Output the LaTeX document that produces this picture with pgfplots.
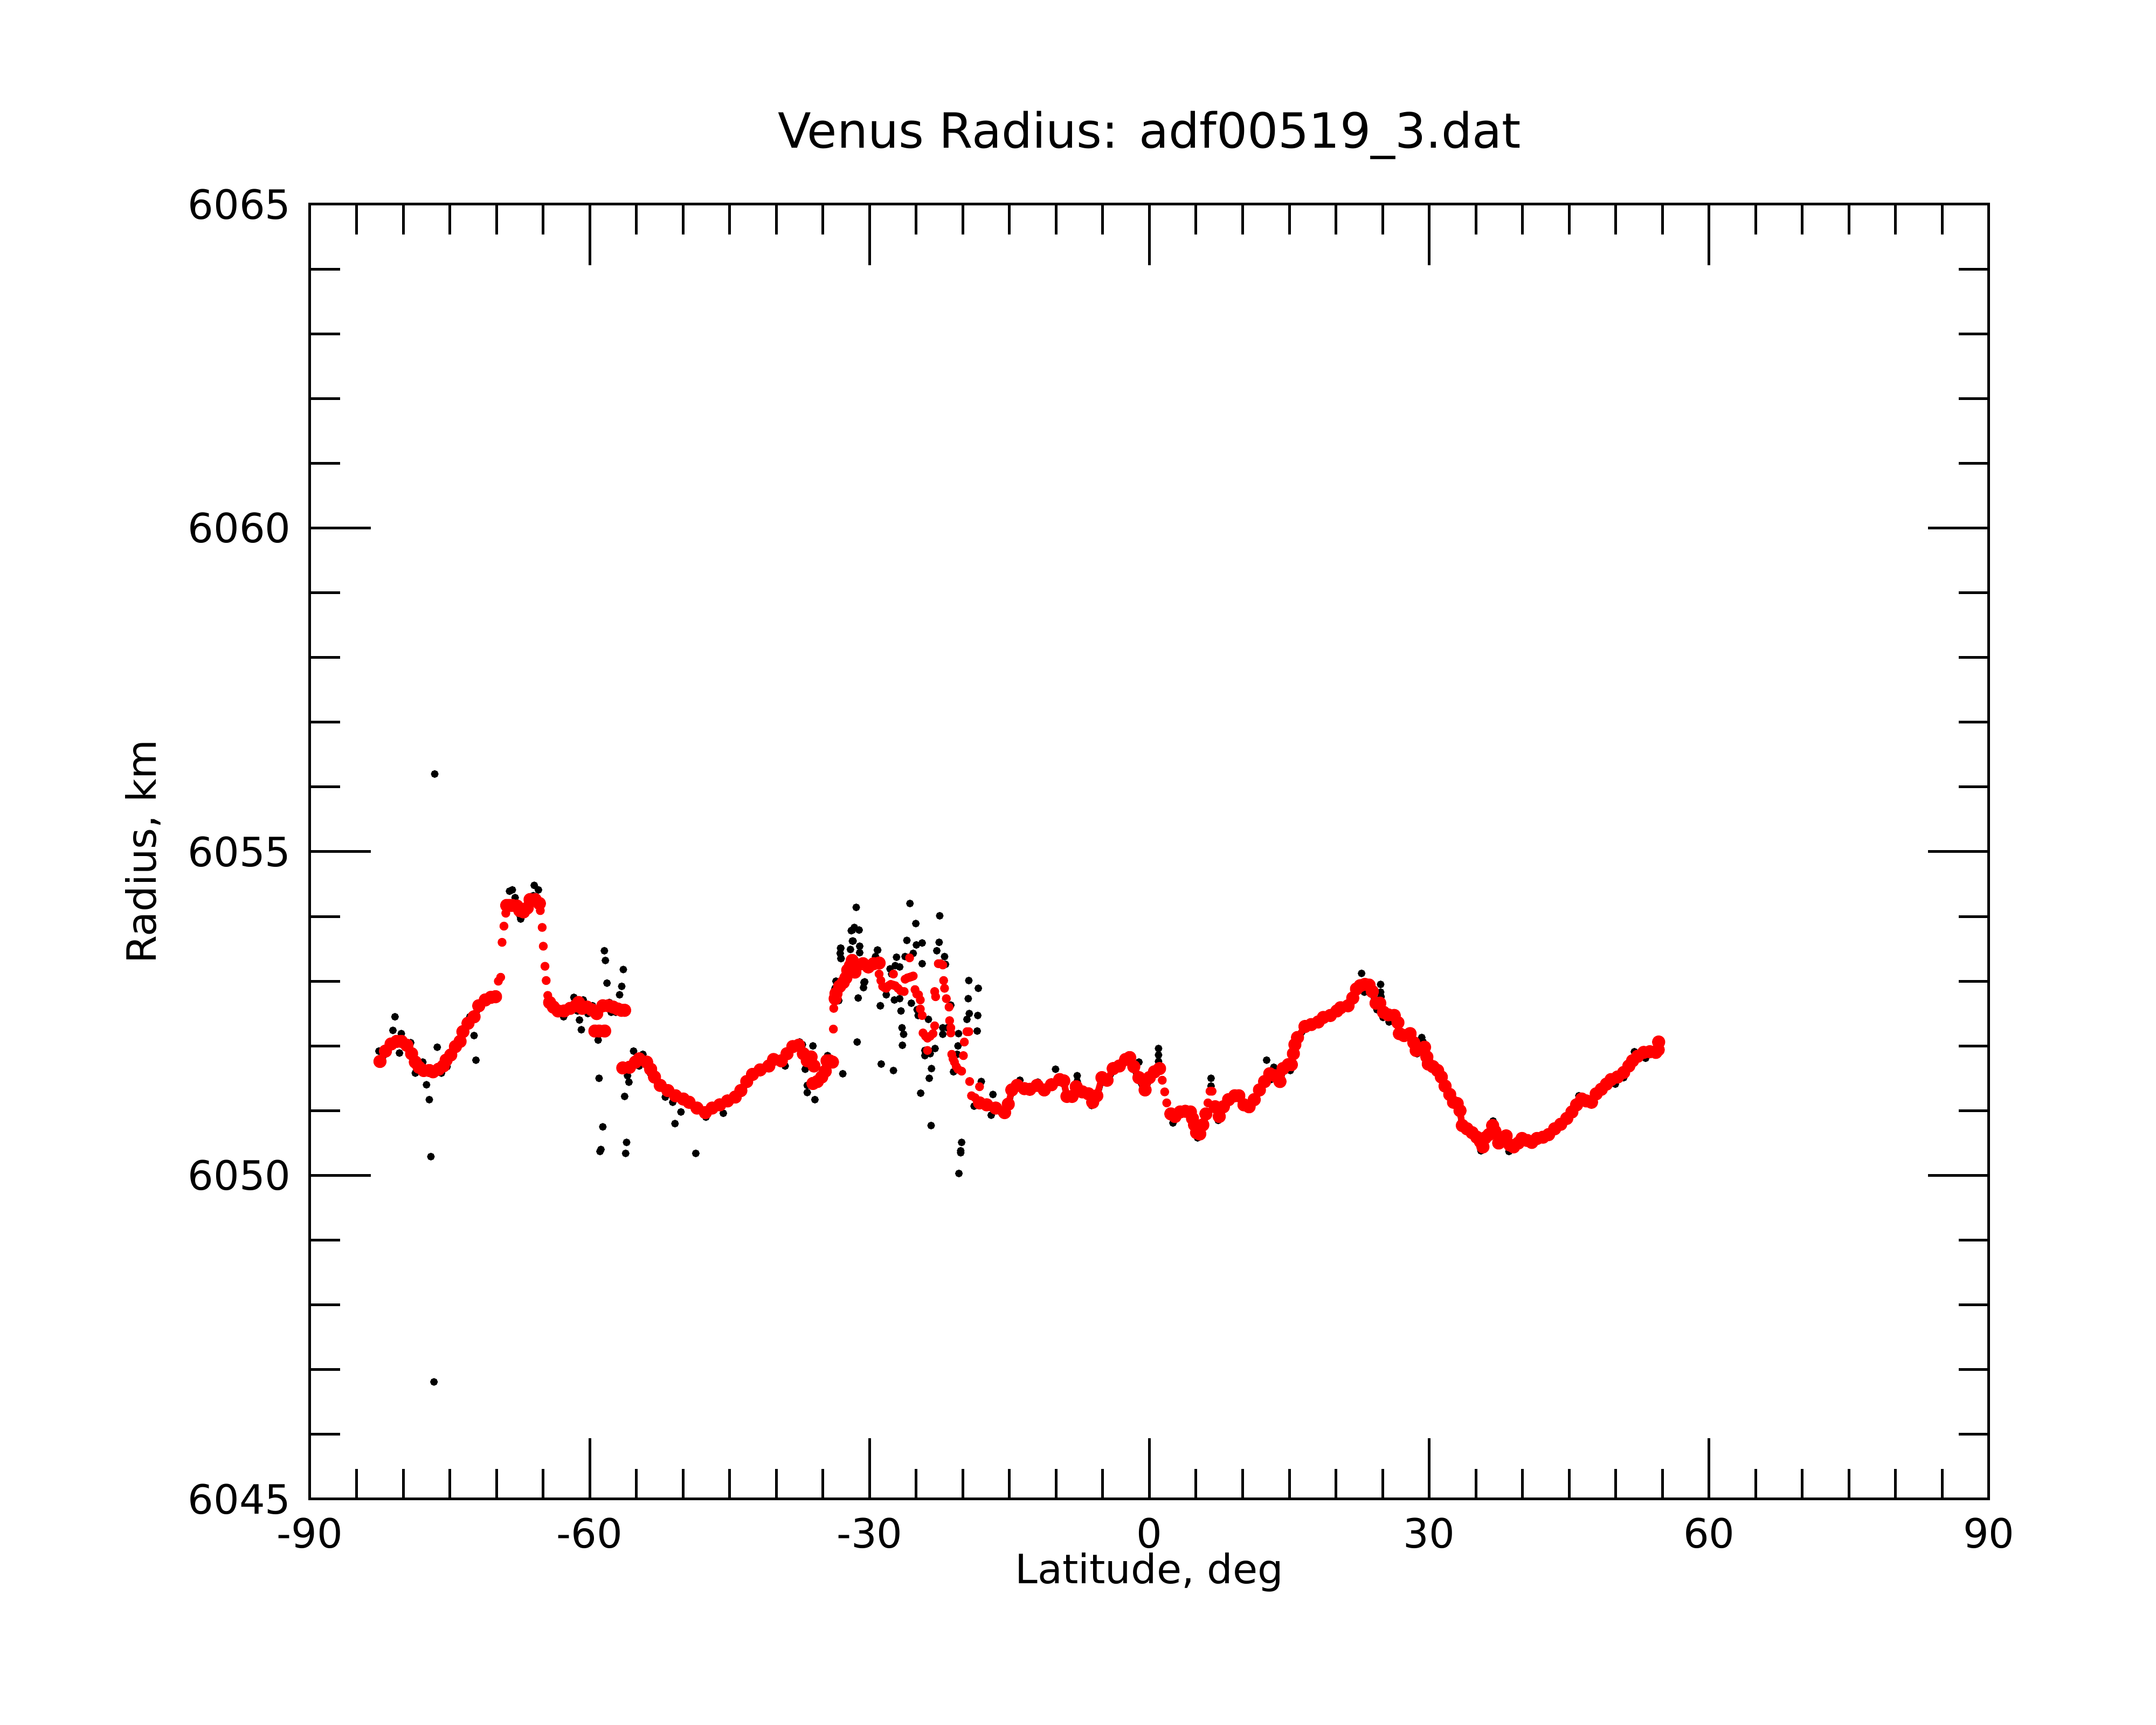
\documentclass[border=0pt]{standalone}
\usepackage{pgfplots}
\pgfplotsset{compat=1.18}
\usepackage{pgfplotstable}
\usepackage{fontspec}
\setmainfont{DejaVu Sans}

\pgfplotstableread{
x y
-82.49 6051.76
-81.9 6051.92
-81.3 6052.03
-80.7 6052.07
-80.2 6052.07
-79.6 6052.01
-79.1 6051.88
-78.7 6051.75
-78.3 6051.67
-77.8 6051.62
-77.2 6051.62
-76.8 6051.60
-76.2 6051.64
-75.7 6051.69
-75.4 6051.78
-74.9 6051.86
-74.4 6051.99
-73.9 6052.07
-73.6 6052.22
-73.05 6052.35
-72.4 6052.45
-71.9 6052.62
-71.2 6052.71
-70.6 6052.75
-70.1 6052.76
}\redA

\pgfplotstableread{
x y
-68.9 6054.17
-68.6 6054.17
-68.3 6054.17
-67.8 6054.16
-67.5 6054.09
-67.1 6054.07
-66.7 6054.13
-66.4 6054.26
-65.85 6054.26
-65.4 6054.20
}\redB

\pgfplotstableread{
x y
-64.3 6052.67
-63.9 6052.60
-63.4 6052.54
-62.75 6052.54
-62.1 6052.58
-61.5 6052.62
-61.2 6052.67
-60.8 6052.58
-60.3 6052.60
-59.8 6052.56
-59.25 6052.50
}\redC

\pgfplotstableread{
x y
-59.45 6052.23
-59.0 6052.23
-58.4 6052.23
}\redD

\pgfplotstableread{
x y
-58.6 6052.62
-58.0 6052.62
-57.5 6052.60
-57.0 6052.57
-56.6 6052.55
-56.26 6052.55
}\redE

\pgfplotstableread{
x y
-56.46 6051.66
-55.74 6051.67
-55.1 6051.75
-54.7 6051.80
-53.9 6051.75
-53.47 6051.64
-53.06 6051.52
-52.44 6051.39
-51.62 6051.31
-50.8 6051.23
-49.97 6051.18
-49.35 6051.13
-48.5 6051.04
-47.6 6050.97
-46.88 6051.04
-46.06 6051.09
-45.23 6051.15
-44.4 6051.21
-43.8 6051.31
-43.17 6051.45
-42.55 6051.56
-41.73 6051.63
-40.8 6051.69
-40.29 6051.79
-39.46 6051.77
-38.85 6051.88
-38.23 6051.99
-37.61 6052.01
-37.1 6051.88
-36.68 6051.77
-36.27 6051.83
-35.96 6051.69
}\redF

\pgfplotstableread{
x y
-36.07 6051.42
-35.6 6051.45
-35.13 6051.52
-34.75 6051.61
-34.56 6051.77
-34.3 6051.77
-33.98 6051.75
}\redG

\pgfplotstableread{
x y
-33.69 6052.73
-33.6 6052.81
-33.21 6052.92
-32.82 6052.98
-32.54 6053.05
-32.34 6053.17
-32.05 6053.24
-31.86 6053.32
-31.57 6053.14
-31.29 6053.25
-30.71 6053.27
-30.13 6053.22
-29.55 6053.27
-28.98 6053.28
}\redH

\pgfplotstableread{
x y
-18.21 6051.12
-17.44 6051.09
-16.48 6051.04
-15.52 6050.97
-15.13 6051.10
-14.75 6051.32
-14.17 6051.39
-13.4 6051.34
-12.82 6051.33
-12.04 6051.39
-11.27 6051.32
-10.5 6051.40
-9.62 6051.48
-9.18 6051.46
-8.84 6051.22
-8.29 6051.22
-7.85 6051.37
-7.19 6051.29
-6.53 6051.26
-6.08 6051.13
-5.64 6051.23
-5.09 6051.51
-4.54 6051.47
-3.88 6051.65
-3.22 6051.69
-2.55 6051.79
-2.11 6051.82
-1.67 6051.68
-1.12 6051.51
-0.46 6051.32
-0.01 6051.51
0.54 6051.60
1.09 6051.65
}\redI

\pgfplotstableread{
x y
2.3 6050.95
2.75 6050.91
3.3 6050.98
3.85 6050.99
4.4 6050.98
4.62 6050.88
4.84 6050.78
5.06 6050.66
5.4 6050.64
5.73 6050.78
6.06 6050.95
}\redJ

\pgfplotstableread{
x y
7.05 6051.06
7.49 6050.91
7.93 6051.06
8.49 6051.17
9.15 6051.23
9.59 6051.23
10.14 6051.09
10.69 6051.06
11.24 6051.17
11.8 6051.32
12.35 6051.45
12.9 6051.57
13.45 6051.54
14.0 6051.45
14.33 6051.65
14.89 6051.71
15.22 6051.71
15.44 6051.88
15.6 6052.02
15.88 6052.13
16.68 6052.30
17.35 6052.33
18.1 6052.37
18.65 6052.44
19.4 6052.47
20.1 6052.54
20.5 6052.59
21.3 6052.62
21.8 6052.74
22.2 6052.88
22.6 6052.93
23.1 6052.95
23.55 6052.94
23.9 6052.84
24.3 6052.66
24.7 6052.66
25.1 6052.52
25.6 6052.48
26.25 6052.47
26.65 6052.36
26.8 6052.19
27.3 6052.16
27.95 6052.19
28.35 6052.05
28.6 6051.93
29.1 6051.95
29.5 6051.98
29.75 6051.83
29.9 6051.72
30.4 6051.68
30.9 6051.62
31.3 6051.52
31.7 6051.38
32.2 6051.25
32.6 6051.13
33.0 6051.11
33.3 6051.00
33.55 6050.77
34.05 6050.72
34.6 6050.66
35.1 6050.59
35.5 6050.52
35.76 6050.44
36.0 6050.58
36.4 6050.63
36.8 6050.77
37.05 6050.68
37.45 6050.50
37.85 6050.58
38.25 6050.61
38.65 6050.47
39.05 6050.44
39.55 6050.50
39.95 6050.57
40.5 6050.54
41.0 6050.51
41.55 6050.57
42.2 6050.59
42.8 6050.63
43.45 6050.72
44.1 6050.79
44.75 6050.88
45.3 6050.98
45.8 6051.09
46.35 6051.18
46.85 6051.15
47.4 6051.13
47.9 6051.26
48.45 6051.33
49.0 6051.41
49.5 6051.48
50.2 6051.52
50.85 6051.59
51.4 6051.69
51.8 6051.77
52.35 6051.84
53.0 6051.90
53.65 6051.91
54.3 6051.90
54.55 6051.94
54.6 6052.06
}\redK

\pgfplotstableread{
x y
-69.8 6053.00
-69.55 6053.06
-69.4 6053.60
-69.2 6053.85
-69.0 6054.05
-65.3 6054.09
-65.1 6053.83
-64.98 6053.54
-64.8 6053.23
-64.67 6053.01
-64.5 6052.78
-33.88 6052.26
-33.84 6052.58
-28.98 6053.11
-28.79 6053.01
-28.6 6052.92
-28.4 6052.90
-28.21 6052.89
-27.95 6052.93
-27.73 6052.95
-27.5 6052.94
-27.25 6052.93
-26.95 6052.89
-26.67 6052.85
-26.29 6052.84
-27.44 6053.11
-26.19 6053.03
-25.95 6053.05
-25.71 6053.06
-25.5 6053.07
-25.32 6053.08
-25.71 6053.36
-25.13 6052.87
-24.94 6052.80
-24.75 6052.79
-24.56 6052.71
-24.56 6052.57
-24.36 6052.47
-24.27 6052.20
-24.0 6052.15
-23.79 6052.12
-23.5 6052.15
-23.2 6052.19
-23.79 6051.93
-23.02 6052.31
-22.92 6052.76
-23.02 6052.84
-22.63 6053.27
-22.4 6053.27
-22.15 6053.25
-22.06 6053.01
-21.96 6052.89
-21.77 6052.73
-21.48 6052.60
-21.42 6052.39
-21.29 6052.28
-21.29 6052.20
-21.19 6051.87
-21.05 6051.80
-20.9 6051.75
-20.7 6051.68
-20.52 6051.64
-20.13 6051.61
-19.94 6051.85
-19.84 6052.06
-19.56 6052.22
-19.36 6052.22
-19.27 6051.45
-19.07 6051.23
-18.69 6051.20
-18.21 6051.37
1.38 6051.47
1.64 6051.29
1.86 6051.12
6.28 6051.12
6.5 6051.30
6.72 6051.30
}\redS

\pgfplotstableread{
x y
-82.6 6051.92
-80.88 6052.45
-81.1 6052.24
-80.2 6052.19
-80.4 6051.89
-79.2 6052.05
-78.7 6051.58
-77.9 6051.75
-77.5 6051.40
-77.2 6051.17
-77.03 6050.29
-76.62 6056.20
-76.7 6046.81
-76.35 6051.98
-75.9 6051.58
-75.3 6051.68
-73.25 6052.33
-72.85 6052.45
-72.4 6052.16
-72.2 6051.78
-69.96 6052.73
-68.6 6054.39
-68.3 6054.41
-68.0 6054.29
-67.5 6054.02
-67.4 6053.96
-66.05 6054.32
-65.95 6054.48
-65.5 6054.41
-63.4 6052.50
-62.8 6052.45
-61.7 6052.75
-61.6 6052.67
-61.3 6052.54
-61.1 6052.40
-60.9 6052.25
-60.7 6052.71
-60.2 6052.50
-59.7 6052.62
-59.1 6052.09
-59.0 6051.50
-58.6 6050.75
-58.8 6050.40
-58.9 6050.37
-58.43 6053.47
-58.32 6053.32
-58.15 6052.97
-57.9 6052.67
-57.7 6052.52
-57.2 6052.52
-56.8 6052.79
-56.57 6052.92
-56.4 6053.18
-56.26 6051.22
-56.05 6050.51
-56.15 6050.34
-55.95 6051.54
-55.8 6051.44
-55.3 6051.92
-54.3 6051.87
-54.7 6051.69
-53.5 6051.58
-51.9 6051.21
-51.1 6051.13
-50.22 6050.98
-50.86 6050.80
-48.63 6050.34
-47.54 6050.90
-45.68 6050.96
-39.05 6051.69
-37.5 6052.06
-37.2 6052.02
-36.9 6051.64
-36.68 6051.39
-36.68 6051.28
-35.86 6051.17
-36.07 6052.00
-34.5 6051.85
-32.87 6051.57
-33.6 6053.00
-33.7 6052.89
-33.3 6052.70
-33.08 6053.51
-33.08 6053.35
-32.05 6053.49
-31.84 6053.79
-31.63 6053.83
-31.84 6053.62
-31.43 6054.14
-31.12 6053.79
-31.06 6053.54
-31.06 6053.44
-30.6 6052.98
-30.65 6052.90
-31.22 6052.74
-31.33 6052.06
-28.85 6052.62
-28.75 6051.72
-29.16 6053.48
-25.67 6054.20
-22.48 6054.01
-25.04 6053.89
-31.96 6053.78
-31.77 6053.62
-33.11 6053.51
-33.15 6053.43
-33.05 6053.35
-29.13 6053.48
-29.36 6053.38
-26.0 6053.63
-24.98 6053.56
-24.36 6053.59
-25.32 6053.43
-26.19 6053.38
-27.11 6053.37
-24.36 6053.27
-22.54 6053.60
-22.79 6053.47
-21.96 6053.38
-21.86 6053.26
-27.8 6053.19
-27.25 6053.24
-26.77 6053.22
-27.63 6053.11
-30.52 6052.99
-28.84 6052.62
-28.21 6052.79
-27.34 6052.71
-26.77 6052.73
-26.63 6052.54
-25.52 6052.66
-24.9 6052.56
-24.79 6052.47
-23.69 6052.41
-26.52 6052.28
-26.35 6052.18
-26.48 6052.01
-27.44 6051.62
-24.07 6051.93
-24.07 6051.85
-23.5 6051.88
-22.98 6051.96
-23.36 6051.65
-23.6 6051.50
-24.52 6051.27
-23.4 6050.77
-20.13 6050.51
-20.23 6050.38
-20.23 6050.35
-20.42 6050.03
-19.36 6053.01
-18.34 6052.89
-19.42 6052.73
-19.31 6052.50
-19.56 6052.41
-18.4 6052.47
-18.46 6052.23
-20.46 6052.19
-22.15 6052.28
-22.15 6052.18
-21.67 6052.28
-20.52 6052.00
-20.61 6051.87
-21.0 6051.60
-21.29 6052.63
-18.02 6051.45
-16.77 6051.25
-16.96 6050.93
-18.79 6051.07
-13.88 6051.47
-11.96 6051.44
-10.06 6051.64
-7.74 6051.54
-7.74 6051.45
0.98 6051.96
0.98 6051.86
0.98 6051.76
-1.12 6051.75
6.61 6051.50
6.61 6051.38
12.57 6051.78
13.34 6051.67
13.01 6051.48
5.17 6050.58
-6.19 6051.08
2.53 6050.81
7.38 6050.85
15.11 6051.62
22.75 6053.12
24.79 6052.95
24.79 6052.83
24.84 6052.76
24.4 6052.56
25.05 6052.44
25.7 6052.37
26.2 6052.51
29.2 6052.13
29.35 6052.06
28.7 6051.88
23.05 6052.83
36.85 6050.84
35.55 6050.38
38.55 6050.37
46.05 6051.23
49.95 6051.41
50.85 6051.51
52.0 6051.91
53.2 6051.81
52.4 6051.80
}\blk

\begin{document}
\begin{tikzpicture}
\useasboundingbox (-57.5pt,-41.9pt) rectangle (342.5pt,278.1pt);
\begin{axis}[
  at={(0,0)}, anchor=south west,
  width=311.5pt, height=240.2pt, scale only axis,
  xmin=-90, xmax=90, ymin=6045, ymax=6065,
  xtick={-90,-60,-30,0,30,60,90},
  xticklabels={-90,-60,-30,0,30,60,90},
  ytick={6045,6050,6055,6060,6065},
  minor x tick num=5, minor y tick num=4,
  tick align=inside,
  major tick length=11.3pt, minor tick length=5.6pt,
  tick style={black, line width=0.5pt},
  axis line style={line width=0.5pt},
  font=\fontsize{7.5}{9}\selectfont,
  /pgf/number format/assume math mode=true,
  /pgf/number format/1000 sep={},
  title={Venus Radius: adf00519\_3.dat},
  title style={font=\fontsize{9}{11}\selectfont, at={(axis description cs:0.5,1)}, anchor=center, yshift=6.8pt},
  xlabel={Latitude, deg}, ylabel={Radius, km},
  xlabel style={at={(axis description cs:0.5,0)}, anchor=center, yshift=-13.6pt},
  ylabel style={at={(axis description cs:0,0.5)}, anchor=center, yshift=31pt},
  yticklabel style={xshift=0pt},
  redline/.style={red, line width=1.2pt, line join=round, line cap=round, mark=*, mark size=0.62pt, mark options={solid, draw=none, fill=red}},
  redpts/.style={red, only marks, mark=*, mark size=0.62pt, mark options={draw=none, fill=red}},
  blkline/.style={black, line width=1.1pt, line join=round, line cap=round, yshift=-0.35pt, mark=none},
  blkpts/.style={black, only marks, mark=*, mark size=0.5pt, mark options={draw=none, fill=black}},
]
\addplot[blkline] table {\redA};
\addplot[blkline] table {\redB};
\addplot[blkline] table {\redC};
\addplot[blkline] table {\redE};
\addplot[blkline] table {\redF};
\addplot[blkline] table {\redG};
\addplot[blkline] table {\redH};
\addplot[blkline] table {\redI};
\addplot[blkline] table {\redJ};
\addplot[blkline] table {\redK};
\addplot[blkpts] table {\blk};
\addplot[redline] table {\redA};
\addplot[redline] table {\redB};
\addplot[redline] table {\redC};
\addplot[redline] table {\redD};
\addplot[redline] table {\redE};
\addplot[redline] table {\redF};
\addplot[redline] table {\redG};
\addplot[redline] table {\redH};
\addplot[redline] table {\redI};
\addplot[redline] table {\redJ};
\addplot[redline] table {\redK};
\addplot[redpts] table {\redS};
\end{axis}
\end{tikzpicture}
\end{document}
